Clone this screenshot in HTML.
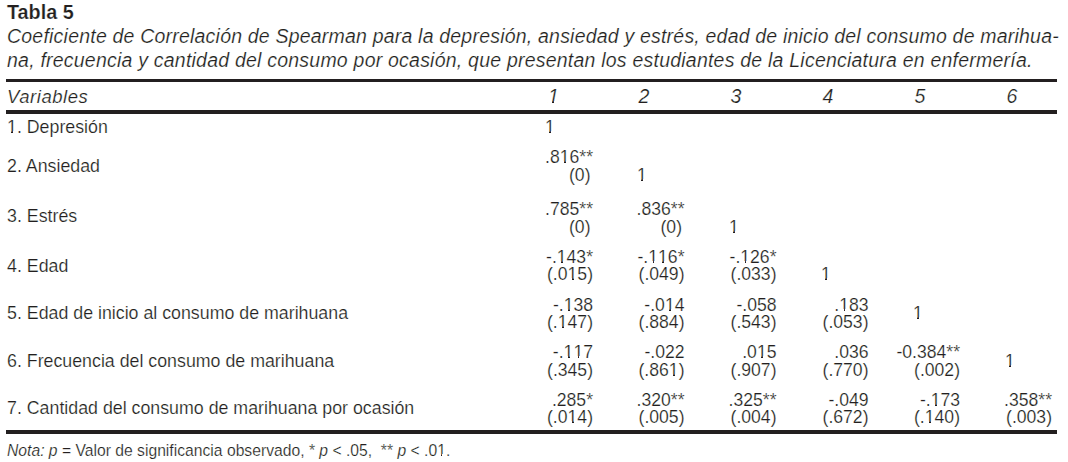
<!DOCTYPE html>
<html><head><meta charset="utf-8"><style>
html,body{margin:0;padding:0;background:#fff;width:1068px;height:462px;overflow:hidden;position:relative}
.t{position:absolute;height:0;line-height:0;white-space:nowrap;font-family:"Liberation Sans",sans-serif;color:#231f20;-webkit-text-stroke:0.2px #fff}
.t span{display:inline-block;vertical-align:baseline;line-height:normal}
.j{position:absolute;height:0;line-height:0;font-family:"Liberation Sans",sans-serif;color:#231f20;font-style:italic;text-align:justify;text-align-last:justify}
.j span{display:block;line-height:normal}
.r{position:absolute;background:#231f20}
b.o,b.oi{font-weight:inherit;position:relative}
b.o::before,b.o::after,b.oi::before,b.oi::after{content:"";position:absolute;background:#fff;bottom:0.1em;height:0.22em}
b.o::before{left:0;width:.252em}
b.o::after{left:.341em;width:.215em}
b.oi::before{left:0;width:.2em}
b.oi::after{left:.31em;width:.2em}
</style></head><body>
<div class="t" style="left:7px;top:1px;font-size:19.8px;font-weight:bold"><span>Tabla 5</span></div>
<div class="t" style="left:7px;top:25px;font-size:19.5px;font-style:italic;letter-spacing:0.22px;word-spacing:-0.12px"><span>Coeficiente de Correlación de Spearman para la depresión, ansiedad y estrés, edad de inicio del consumo de marihua-</span></div>
<div class="t" style="left:7px;top:49px;font-size:19.5px;font-style:italic;letter-spacing:0.22px"><span>na, frecuencia y cantidad del consumo por ocasión, que presentan los estudiantes de la Licenciatura en enfermería.</span></div>
<div class="r" style="left:6px;top:79px;width:1051px;height:3px"></div>
<div class="t" style="left:7px;top:86px;font-size:18.5px;font-style:italic;letter-spacing:0.55px"><span>Variables</span></div>
<div class="t" style="left:548px;top:85px;font-size:19.5px;font-style:italic"><span><b class="oi">1</b></span></div>
<div class="t" style="left:638.5px;top:85px;font-size:19.5px;font-style:italic"><span>2</span></div>
<div class="t" style="left:730.5px;top:85px;font-size:19.5px;font-style:italic"><span>3</span></div>
<div class="t" style="left:822.5px;top:85px;font-size:19.5px;font-style:italic"><span>4</span></div>
<div class="t" style="left:914.5px;top:85px;font-size:19.5px;font-style:italic"><span>5</span></div>
<div class="t" style="left:1006.5px;top:85px;font-size:19.5px;font-style:italic"><span>6</span></div>
<div class="r" style="left:6px;top:110px;width:1051px;height:4px"></div>
<div class="t" style="left:7px;top:117px;font-size:17.8px;"><span><b class="o">1</b>. Depresión</span></div>
<div class="t" style="left:7px;top:156px;font-size:17.8px;"><span>2. Ansiedad</span></div>
<div class="t" style="left:7px;top:206px;font-size:17.8px;"><span>3. Estrés</span></div>
<div class="t" style="left:7px;top:256px;font-size:17.8px;"><span>4. Edad</span></div>
<div class="t" style="left:7px;top:303px;font-size:17.8px;"><span>5. Edad de inicio al consumo de marihuana</span></div>
<div class="t" style="left:7px;top:351px;font-size:17.8px;"><span>6. Frecuencia del consumo de marihuana</span></div>
<div class="t" style="left:7px;top:398px;font-size:17.8px;"><span>7. Cantidad del consumo de marihuana por ocasión</span></div>
<div class="t" style="left:545px;top:117px;font-size:17.6px;"><span><b class="o">1</b></span></div>
<div class="t" style="right:475px;text-align:right;top:147px;font-size:17.6px;"><span>.8<b class="o">1</b>6**</span></div>
<div class="t" style="right:477.5px;text-align:right;top:165px;font-size:17.6px;"><span>(0)</span></div>
<div class="t" style="left:637px;top:165px;font-size:17.6px;"><span><b class="o">1</b></span></div>
<div class="t" style="right:475px;text-align:right;top:199px;font-size:17.6px;"><span>.785**</span></div>
<div class="t" style="right:477.5px;text-align:right;top:217px;font-size:17.6px;"><span>(0)</span></div>
<div class="t" style="right:383.5px;text-align:right;top:199px;font-size:17.6px;"><span>.836**</span></div>
<div class="t" style="right:386.0px;text-align:right;top:217px;font-size:17.6px;"><span>(0)</span></div>
<div class="t" style="left:729px;top:217px;font-size:17.6px;"><span><b class="o">1</b></span></div>
<div class="t" style="right:475px;text-align:right;top:247px;font-size:17.6px;"><span>-.<b class="o">1</b>43*</span></div>
<div class="t" style="right:475px;text-align:right;top:264px;font-size:17.6px;"><span>(.0<b class="o">1</b>5)</span></div>
<div class="t" style="right:383.5px;text-align:right;top:247px;font-size:17.6px;"><span>-.<b class="o">1</b><b class="o">1</b>6*</span></div>
<div class="t" style="right:383.5px;text-align:right;top:264px;font-size:17.6px;"><span>(.049)</span></div>
<div class="t" style="right:291.5px;text-align:right;top:247px;font-size:17.6px;"><span>-.<b class="o">1</b>26*</span></div>
<div class="t" style="right:291.5px;text-align:right;top:264px;font-size:17.6px;"><span>(.033)</span></div>
<div class="t" style="left:821px;top:264px;font-size:17.6px;"><span><b class="o">1</b></span></div>
<div class="t" style="right:475px;text-align:right;top:295px;font-size:17.6px;"><span>-.<b class="o">1</b>38</span></div>
<div class="t" style="right:475px;text-align:right;top:312px;font-size:17.6px;"><span>(.<b class="o">1</b>47)</span></div>
<div class="t" style="right:383.5px;text-align:right;top:295px;font-size:17.6px;"><span>-.0<b class="o">1</b>4</span></div>
<div class="t" style="right:383.5px;text-align:right;top:312px;font-size:17.6px;"><span>(.884)</span></div>
<div class="t" style="right:291.5px;text-align:right;top:295px;font-size:17.6px;"><span>-.058</span></div>
<div class="t" style="right:291.5px;text-align:right;top:312px;font-size:17.6px;"><span>(.543)</span></div>
<div class="t" style="right:199.5px;text-align:right;top:295px;font-size:17.6px;"><span>.<b class="o">1</b>83</span></div>
<div class="t" style="right:199.5px;text-align:right;top:312px;font-size:17.6px;"><span>(.053)</span></div>
<div class="t" style="left:913px;top:303px;font-size:17.6px;"><span><b class="o">1</b></span></div>
<div class="t" style="right:475px;text-align:right;top:342px;font-size:17.6px;"><span>-.<b class="o">1</b><b class="o">1</b>7</span></div>
<div class="t" style="right:475px;text-align:right;top:360px;font-size:17.6px;"><span>(.345)</span></div>
<div class="t" style="right:383.5px;text-align:right;top:342px;font-size:17.6px;"><span>-.022</span></div>
<div class="t" style="right:383.5px;text-align:right;top:360px;font-size:17.6px;"><span>(.86<b class="o">1</b>)</span></div>
<div class="t" style="right:291.5px;text-align:right;top:342px;font-size:17.6px;"><span>.0<b class="o">1</b>5</span></div>
<div class="t" style="right:291.5px;text-align:right;top:360px;font-size:17.6px;"><span>(.907)</span></div>
<div class="t" style="right:199.5px;text-align:right;top:342px;font-size:17.6px;"><span>.036</span></div>
<div class="t" style="right:199.5px;text-align:right;top:360px;font-size:17.6px;"><span>(.770)</span></div>
<div class="t" style="right:108px;text-align:right;top:342px;font-size:17.6px;"><span>-0.384**</span></div>
<div class="t" style="right:108px;text-align:right;top:360px;font-size:17.6px;"><span>(.002)</span></div>
<div class="t" style="left:1005px;top:351px;font-size:17.6px;"><span><b class="o">1</b></span></div>
<div class="t" style="right:475px;text-align:right;top:390px;font-size:17.6px;"><span>.285*</span></div>
<div class="t" style="right:475px;text-align:right;top:407px;font-size:17.6px;"><span>(.0<b class="o">1</b>4)</span></div>
<div class="t" style="right:383.5px;text-align:right;top:390px;font-size:17.6px;"><span>.320**</span></div>
<div class="t" style="right:383.5px;text-align:right;top:407px;font-size:17.6px;"><span>(.005)</span></div>
<div class="t" style="right:291.5px;text-align:right;top:390px;font-size:17.6px;"><span>.325**</span></div>
<div class="t" style="right:291.5px;text-align:right;top:407px;font-size:17.6px;"><span>(.004)</span></div>
<div class="t" style="right:199.5px;text-align:right;top:390px;font-size:17.6px;"><span>-.049</span></div>
<div class="t" style="right:199.5px;text-align:right;top:407px;font-size:17.6px;"><span>(.672)</span></div>
<div class="t" style="right:108px;text-align:right;top:390px;font-size:17.6px;"><span>-.<b class="o">1</b>73</span></div>
<div class="t" style="right:108px;text-align:right;top:407px;font-size:17.6px;"><span>(.<b class="o">1</b>40)</span></div>
<div class="t" style="right:16px;text-align:right;top:390px;font-size:17.6px;"><span>.358**</span></div>
<div class="t" style="right:16px;text-align:right;top:407px;font-size:17.6px;"><span>(.003)</span></div>
<div class="r" style="left:6px;top:430px;width:1051px;height:4px"></div>
<div class="t" style="left:7px;top:442px;font-size:15.7px;"><span><i>Nota:</i> <i>p</i> = Valor de significancia observado, * <i>p</i> &lt; .05,&nbsp; ** <i>p</i> &lt; .0<b class="o">1</b>.</span></div>
</body></html>
